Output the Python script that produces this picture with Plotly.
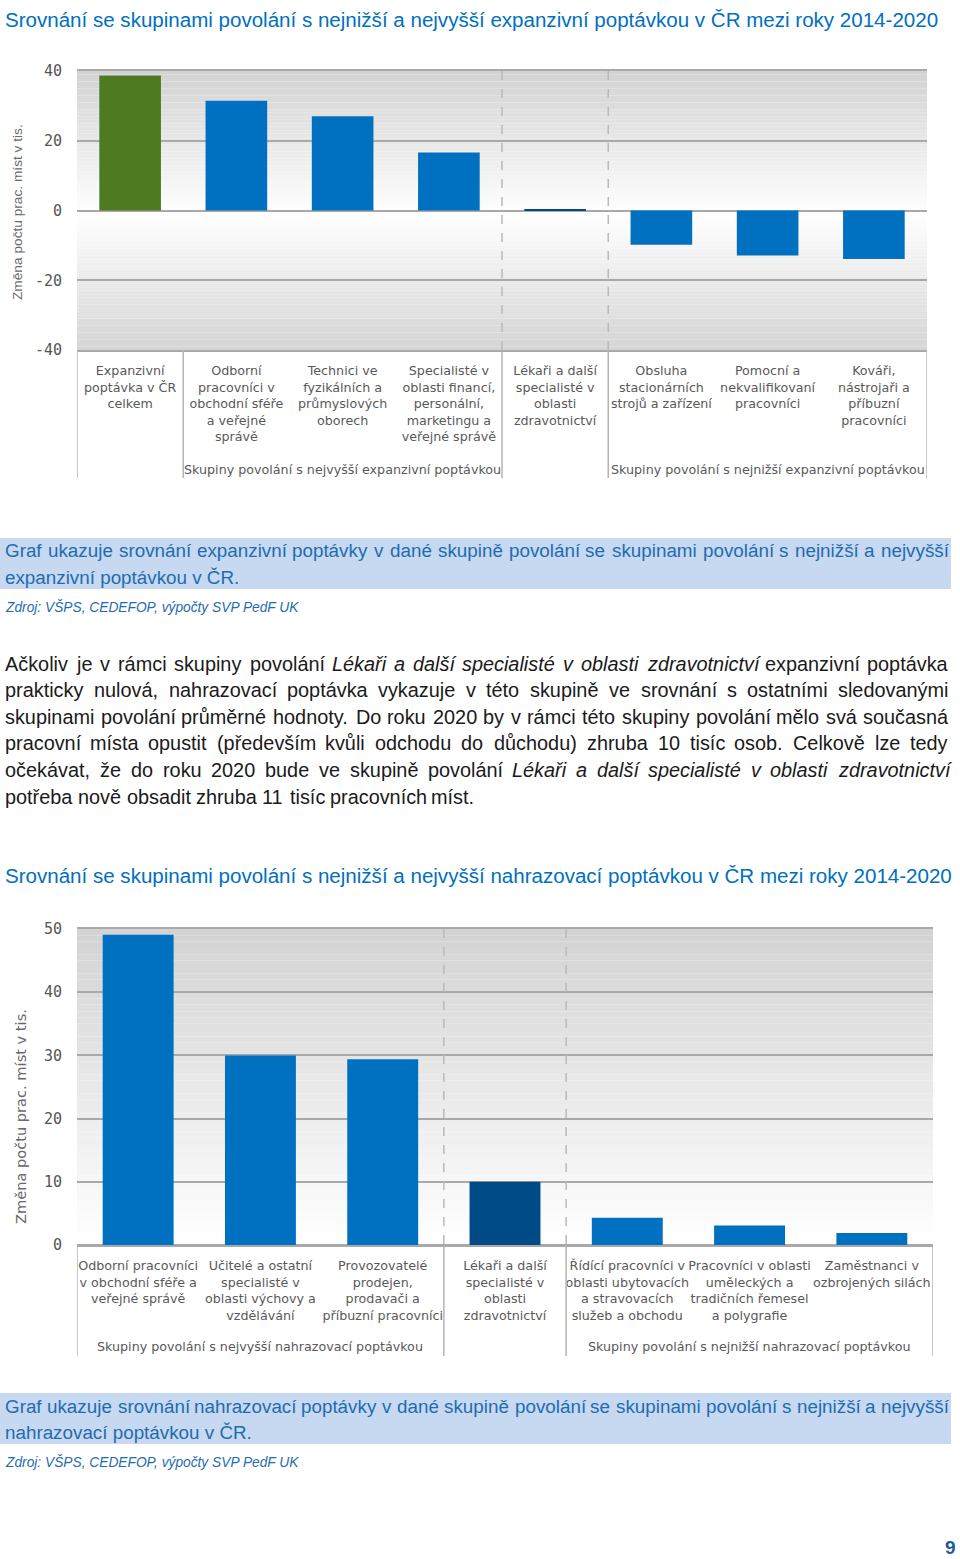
import unicodedata
import plotly.graph_objects as go

W, H = 960, 1559

# ---------------- data ----------------
exp_categories = [
    "Expanzivní poptávka v ČR celkem",
    "Odborní pracovníci v obchodní sféře a veřejné správě",
    "Technici ve fyzikálních a průmyslových oborech",
    "Specialisté v oblasti financí, personální, marketingu a veřejné správě",
    "Lékaři a další specialisté v oblasti zdravotnictví",
    "Obsluha stacionárních strojů a zařízení",
    "Pomocní a nekvalifikovaní pracovníci",
    "Kováři, nástrojaři a příbuzní pracovníci",
]
exp_tick_labels = [
    "Expanzivní<br>poptávka v ČR<br>celkem",
    "Odborní<br>pracovníci v<br>obchodní sféře<br>a veřejné<br>správě",
    "Technici ve<br>fyzikálních a<br>průmyslových<br>oborech",
    "Specialisté v<br>oblasti financí,<br>personální,<br>marketingu a<br>veřejné správě",
    "Lékaři a další<br>specialisté v<br>oblasti<br>zdravotnictví",
    "Obsluha<br>stacionárních<br>strojů a zařízení",
    "Pomocní a<br>nekvalifikovaní<br>pracovníci",
    "Kováři,<br>nástrojaři a<br>příbuzní<br>pracovníci",
]
exp_values = [38.7, 31.5, 27.0, 16.6, 0.3, -9.8, -12.9, -13.9]
exp_roles = ["total", "top", "top", "top", "focus", "bottom", "bottom", "bottom"]
exp_groups = [
    "",
    "Skupiny povolání s nejvyšší expanzivní poptávkou",
    "Skupiny povolání s nejvyšší expanzivní poptávkou",
    "Skupiny povolání s nejvyšší expanzivní poptávkou",
    " ",
    "Skupiny povolání s nejnižší expanzivní poptávkou",
    "Skupiny povolání s nejnižší expanzivní poptávkou",
    "Skupiny povolání s nejnižší expanzivní poptávkou",
]
exp_yticks = [-40, -20, 0, 20, 40]
exp_ytick_labels = ["-40", "-20", "0", "20", "40"]

rep_categories = [
    "Odborní pracovníci v obchodní sféře a veřejné správě",
    "Učitelé a ostatní specialisté v oblasti výchovy a vzdělávání",
    "Provozovatelé prodejen, prodavači a příbuzní pracovníci",
    "Lékaři a další specialisté v oblasti zdravotnictví",
    "Řídící pracovníci v oblasti ubytovacích a stravovacích služeb a obchodu",
    "Pracovníci v oblasti uměleckých a tradičních řemesel a polygrafie",
    "Zaměstnanci v ozbrojených silách",
]
rep_tick_labels = [
    "Odborní pracovníci<br>v obchodní sféře a<br>veřejné správě",
    "Učitelé a ostatní<br>specialisté v<br>oblasti výchovy a<br>vzdělávání",
    "Provozovatelé<br>prodejen,<br>prodavači a<br>příbuzní pracovníci",
    "Lékaři a další<br>specialisté v<br>oblasti<br>zdravotnictví",
    "Řídící pracovníci v<br>oblasti ubytovacích<br>a stravovacích<br>služeb a obchodu",
    "Pracovníci v oblasti<br>uměleckých a<br>tradičních řemesel<br>a polygrafie",
    "Zaměstnanci v<br>ozbrojených silách",
]
rep_values = [49.1, 30.0, 29.4, 10.0, 4.3, 3.1, 1.9]
rep_roles = ["top", "top", "top", "focus", "bottom", "bottom", "bottom"]
rep_groups = [
    "Skupiny povolání s nejvyšší nahrazovací poptávkou",
    "Skupiny povolání s nejvyšší nahrazovací poptávkou",
    "Skupiny povolání s nejvyšší nahrazovací poptávkou",
    " ",
    "Skupiny povolání s nejnižší nahrazovací poptávkou",
    "Skupiny povolání s nejnižší nahrazovací poptávkou",
    "Skupiny povolání s nejnižší nahrazovací poptávkou",
]
rep_yticks = [0, 10, 20, 30, 40, 50]
rep_ytick_labels = ["0", "10", "20", "30", "40", "50"]

y_title = "Změna počtu prac. míst v tis."
title1 = "Srovnání se skupinami povolání s nejnižší a nejvyšší expanzivní poptávkou v ČR mezi roky 2014-2020"
title2 = "Srovnání se skupinami povolání s nejnižší a nejvyšší nahrazovací poptávkou v ČR mezi roky 2014-2020"
caption1 = ["Graf ukazuje srovnání expanzivní poptávky v dané skupině povolání se skupinami povolání s nejnižší a nejvyšší",
            "expanzivní poptávkou v ČR."]
caption2 = ["Graf ukazuje srovnání nahrazovací poptávky v dané skupině povolání se skupinami povolání s nejnižší a nejvyšší",
            "nahrazovací poptávkou v ČR."]
source = "Zdroj: VŠPS, CEDEFOP, výpočty SVP PedF UK"
focus = "Lékaři a další specialisté v oblasti zdravotnictví"
paragraph = [
    [("Ačkoliv je v rámci skupiny povolání", False), (focus, True), ("expanzivní poptávka", False)],
    [("prakticky nulová, nahrazovací poptávka vykazuje v této skupině ve srovnání s ostatními sledovanými", False)],
    [("skupinami povolání průměrné hodnoty. Do roku 2020 by v rámci této skupiny povolání mělo svá současná", False)],
    [("pracovní místa opustit (především kvůli odchodu do důchodu) zhruba 10 tisíc osob. Celkově lze tedy", False)],
    [("očekávat, že do roku 2020 bude ve skupině povolání", False), (focus, True)],
    [("potřeba nově obsadit zhruba 11 tisíc pracovních míst.", False)],
]
page_number = "9"

# ---------------- style ----------------
role_colors = {"total": "#4e7a22", "top": "#0070c0", "focus": "#004b87", "bottom": "#0070c0"}
GRID = "#a9a9a9"
LABEL = "#595959"
BLUE = "#0070c0"
CAPBLUE = "#1f6cb0"
SANS = "Liberation Sans"

AW = {' ': 278, '!': 278, '(': 333, ')': 333, ',': 278, '-': 333, '.': 278, ':': 278,
      'A': 667, 'B': 667, 'C': 722, 'D': 722, 'E': 667, 'F': 611, 'G': 778, 'H': 722, 'I': 278,
      'J': 500, 'K': 667, 'L': 556, 'M': 833, 'N': 722, 'O': 778, 'P': 667, 'Q': 778, 'R': 722,
      'S': 667, 'T': 611, 'U': 722, 'V': 667, 'W': 944, 'X': 667, 'Y': 667, 'Z': 611,
      'a': 556, 'b': 556, 'c': 500, 'd': 556, 'e': 556, 'f': 278, 'g': 556, 'h': 556, 'i': 222,
      'j': 222, 'k': 500, 'l': 222, 'm': 833, 'n': 556, 'o': 556, 'p': 556, 'q': 556, 'r': 333,
      's': 500, 't': 278, 'u': 556, 'v': 500, 'w': 722, 'x': 500, 'y': 500, 'z': 500}
for d in "0123456789":
    AW[d] = 556


def tw(s, size):
    t = 0
    for ch in s:
        b = unicodedata.normalize("NFD", ch)[0]
        t += AW.get(b, 556)
    return t * size / 1000.0


def px(x):
    return x / W


def py(y):
    return 1 - y / H


annotations = []
shapes = []


def ann(x, y, text, size, color, family=SANS, xanchor="left", yanchor="middle", **kw):
    annotations.append(dict(x=px(x), y=py(y), xref="paper", yref="paper", text=text,
                            showarrow=False, xanchor=xanchor, yanchor=yanchor,
                            borderpad=0, borderwidth=0,
                            font=dict(family=family, size=size, color=color), **kw))


def split_words(segs):
    out = []
    for text, it in segs:
        for w in text.split():
            out.append((w, it))
    return out


def place_line(segs, y, x0, x1, size, color, justify):
    ws = split_words(segs)
    widths = [tw(w, size) for w, _ in ws]
    if justify and len(ws) > 1:
        gap = (x1 - x0 - sum(widths)) / (len(ws) - 1)
    else:
        gap = tw(" ", size)
    x = x0
    for (w, it), wd in zip(ws, widths):
        ann(x, y, f"<i>{w}</i>" if it else w, size, color)
        x += wd + gap


# ---------------- layout geometry ----------------
C1 = dict(x0=77, x1=927, top=71, bottom=350, lab_bottom=478, group_y=469)
C2 = dict(x0=77, x1=933, top=929, bottom=1245, lab_bottom=1356, group_y=1346)

fig = go.Figure()
fig.add_trace(go.Bar(x=exp_categories, y=exp_values, marker_color=[role_colors[r] for r in exp_roles],
                     marker_line_width=0, width=0.58, xaxis="x", yaxis="y", hoverinfo="x+y"))
fig.add_trace(go.Bar(x=rep_categories, y=rep_values, marker_color=[role_colors[r] for r in rep_roles],
                     marker_line_width=0, width=0.58, xaxis="x2", yaxis="y2", hoverinfo="x+y"))

tickfont = dict(family="DejaVu Sans Mono", size=15, color="#555555")
catfont = dict(family="DejaVu Sans", size=12.7, color=LABEL)


def xaxis_cfg(c, cats, labels, anchor):
    return dict(domain=[px(c["x0"]), px(c["x1"])], anchor=anchor, type="category",
                categoryorder="array", categoryarray=cats,
                range=[-0.5, len(cats) - 0.5], tickmode="array", tickvals=cats, ticktext=labels,
                tickfont=catfont, ticks="", tickangle=0, showgrid=False, showline=True, mirror=True,
                linecolor=GRID, linewidth=1.5, ticklabelstandoff=8, fixedrange=True,
                automargin=False)


def yaxis_cfg(c, rng, ticks, labels, anchor):
    return dict(domain=[py(c["bottom"]), py(c["top"])], anchor=anchor, range=rng,
                tickmode="array", tickvals=ticks, ticktext=labels, tickfont=tickfont, ticks="",
                showgrid=True, gridcolor=GRID, gridwidth=1.5, zeroline=True,
                zerolinecolor=GRID, zerolinewidth=1.5, showline=False,
                ticklabelstandoff=14, fixedrange=True, automargin=False)


# gradient backgrounds (bands)
def bands(yref, xref, lo, hi, n, center, span):
    step = (hi - lo) / n
    for i in range(n):
        a = lo + i * step
        b = a + step
        m = (a + b) / 2
        d = min(1.0, abs(m - center) / span)
        L = int(round(255 - 44 * d))
        shapes.append(dict(type="rect", xref=xref + " domain", yref=yref, x0=0, x1=1, y0=a, y1=b,
                           fillcolor=f"rgb({L},{L},{L})", line=dict(width=0), layer="below"))


bands("y", "x", -40, 40, 80, -1, 40)
bands("y2", "x2", 0, 50, 50, 0, 50)


def group_decor(c, groups, roles, xref):
    n = len(groups)
    bounds = [-0.5]
    for i in range(1, n):
        if groups[i] != groups[i - 1]:
            bounds.append(i - 0.5)
    bounds.append(n - 0.5)
    for b in bounds:
        shapes.append(dict(type="line", xref=xref, yref="paper", x0=b, x1=b,
                           y0=py(c["bottom"]), y1=py(c["lab_bottom"]),
                           line=dict(color="#b4b4b4", width=1.5)))
    fi = roles.index("focus")
    for b in (fi - 0.5, fi + 0.5):
        shapes.append(dict(type="line", xref=xref, yref="paper", x0=b, x1=b,
                           y0=py(c["top"]), y1=py(c["bottom"]),
                           line=dict(color="#b9b9b9", width=1.5, dash="dash")))
    seen = []
    for g in groups:
        if g.strip() and g not in seen:
            seen.append(g)
    for g in seen:
        idx = [i for i, gg in enumerate(groups) if gg == g]
        xm = (idx[0] + idx[-1]) / 2
        annotations.append(dict(x=xm, y=py(c["group_y"]), xref=xref, yref="paper", text=g,
                                showarrow=False, xanchor="center", yanchor="middle",
                                font=catfont))


group_decor(C1, exp_groups, exp_roles, "x")
group_decor(C2, rep_groups, rep_roles, "x2")

# axis titles
annotations.append(dict(x=px(18), y=py(212), xref="paper", yref="paper", text=y_title,
                        textangle=-90, showarrow=False, xanchor="center", yanchor="middle",
                        font=dict(family=SANS, size=13.7, color="#6a6a6a")))
annotations.append(dict(x=px(20), y=py(1117), xref="paper", yref="paper", text=y_title,
                        textangle=-90, showarrow=False, xanchor="center", yanchor="middle",
                        font=dict(family="DejaVu Sans", size=14.6, color="#6a6a6a")))

# titles
tsize = min(22, 928 / tw(title1, 1))
ann(5, 20, title1, tsize, BLUE)
ann(5, 875, title2, tsize, BLUE)

# captions
csize = min(19, 0.995 * 943 / max(tw(caption1[0], 1), tw(caption2[0], 1)))
for (cap, top, l1, l2, src) in ((caption1, 538, 551, 577, 607), (caption2, 1393, 1406, 1432, 1462)):
    shapes.append(dict(type="rect", xref="paper", yref="paper", x0=0, x1=px(951),
                       y0=py(top + 51), y1=py(top), fillcolor="#c6d9f1", line=dict(width=0),
                       layer="below"))
    place_line([(cap[0], False)], l1, 5, 948, csize, CAPBLUE, True)
    ann(5, l2, cap[1], csize, CAPBLUE)
    ssize = 295 / tw(source, 1)
    ann(5, src, f"<i>{source}</i>", ssize, CAPBLUE)

# paragraph
par_y = [664, 690, 717, 743, 770, 797]
nat = max(tw(" ".join(w for w, _ in split_words(seg)), 1) for seg in paragraph[:-1])
psize = min(20, 0.985 * 943 / nat)
for k, (seg, yy) in enumerate(zip(paragraph, par_y)):
    place_line(seg, yy, 5, 948, psize, "#1a1a1a", k < len(paragraph) - 1)

# page number
annotations.append(dict(x=px(950), y=py(1547), xref="paper", yref="paper", text=f"<b>{page_number}</b>",
                        showarrow=False, xanchor="center", yanchor="middle",
                        font=dict(family=SANS, size=19, color="#1f5c99")))

fig.update_layout(
    width=W, height=H, autosize=False, margin=dict(l=0, r=0, t=0, b=0, pad=0, autoexpand=False),
    paper_bgcolor="white", plot_bgcolor="white", showlegend=False, bargap=0.42,
    xaxis=xaxis_cfg(C1, exp_categories, exp_tick_labels, "y"),
    yaxis=yaxis_cfg(C1, [-40, 40], exp_yticks, exp_ytick_labels, "x"),
    xaxis2=xaxis_cfg(C2, rep_categories, rep_tick_labels, "y2"),
    yaxis2=yaxis_cfg(C2, [0, 50], rep_yticks, rep_ytick_labels, "x2"),
    shapes=shapes, annotations=annotations,
)

fig.write_html("out.html", config={"responsive": False, "displayModeBar": False})
